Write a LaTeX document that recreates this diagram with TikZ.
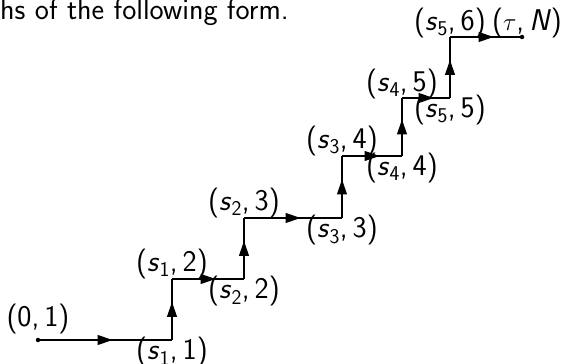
\documentclass[tikz,border=0pt]{standalone}
\usepackage{tikz}
\usetikzlibrary{arrows.meta,positioning,decorations.markings}
\newcommand{\stp}[2]{(\textit{s}\textsubscript{#1},\,#2)}
\begin{document}
\begin{tikzpicture}[x=1pt,y=1pt,font=\fontsize{30pt}{34pt}\selectfont\sffamily,
    seg/.style={line width=1.2pt,postaction={decorate},
      decoration={markings,mark=at position 0.5 with {\arrow[xshift=7.5pt]{Triangle[length=15pt,width=10pt]}}}},
    lab/.style={inner sep=1pt},
    dot/.style={circle,fill,inner sep=0pt,minimum size=4.5pt}]
  \useasboundingbox (0,0) rectangle (566,364);
  \node[anchor=base west,inner sep=0pt] (title) at (0,344) {hs of the following form.};
  % staircase corners
  \coordinate (p0) at (38,24);
  \coordinate (c11) at (172,24);
  \coordinate (c12) at (172,85);
  \coordinate (c22) at (244,85);
  \coordinate (c23) at (244,146);
  \coordinate (c33) at (342,146);
  \coordinate (c34) at (342,208);
  \coordinate (c44) at (402,208);
  \coordinate (c45) at (402,266);
  \coordinate (c55) at (450,266);
  \coordinate (c56) at (450,327);
  \coordinate (pe) at (522,327);
  \foreach \a/\b in {p0/c11,c11/c12,c12/c22,c22/c23,c23/c33,c33/c34,c34/c44,c44/c45,c45/c55,c55/c56,c56/pe}
    \draw[seg] (\a) -- (\b);
  \node[dot] (start) at (p0) {};
  \node[dot] (end) at (pe) {};
  % labels
  \node[lab,above=5pt of p0] (l01) {(0,\,1)};
  \node[lab,below=-4pt of c11] (l11) {\stp{1}{1}};
  \node[lab,above=-1pt of c12] (l12) {\stp{1}{2}};
  \node[lab,below=-4pt of c22] (l22) {\stp{2}{2}};
  \node[lab,above=-1pt of c23] (l23) {\stp{2}{3}};
  \node[lab,below=-4pt of c33] (l33) {\stp{3}{3}};
  \node[lab,above=-1pt of c34] (l34) {\stp{3}{4}};
  \node[lab,below=-4pt of c44] (l44) {\stp{4}{4}};
  \node[lab,above=-2pt of c45] (l45) {\stp{4}{5}};
  \node[lab,below=-4pt of c55] (l55) {\stp{5}{5}};
  \node[lab,above=-2pt of c56] (l56) {\stp{5}{6}};
  \node[lab,above=-2pt of pe,xshift=5pt] (lend) {($\tau$,\,\textit{N})};
\end{tikzpicture}
\end{document}
